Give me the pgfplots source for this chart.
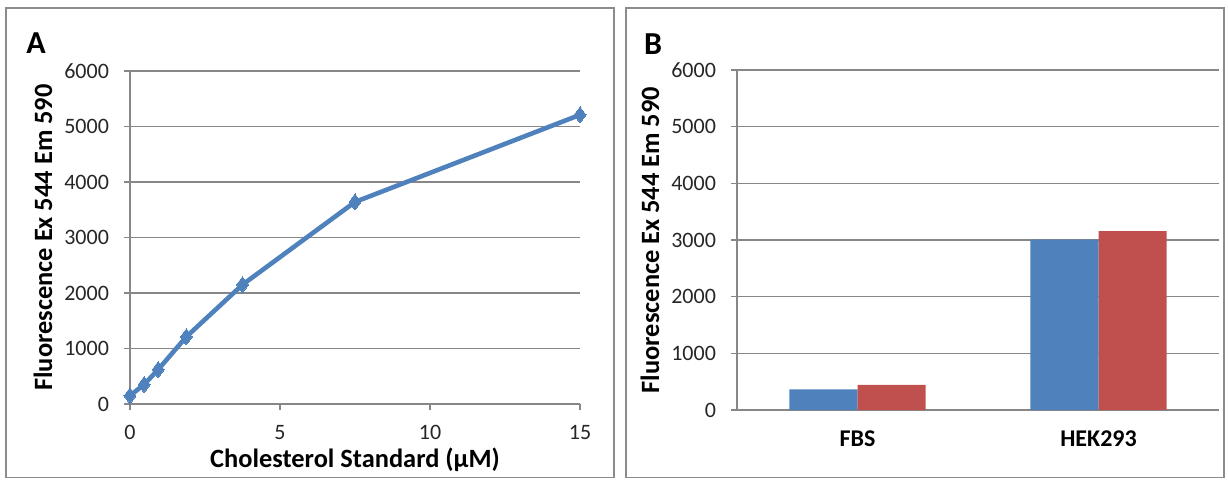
\documentclass[border=0pt]{standalone}
\usepackage{fontspec}
\setmainfont{Carlito}
\usepackage{pgfplots}
\pgfplotsset{compat=1.18}
\definecolor{xblue}{HTML}{4F81BD}
\definecolor{xred}{HTML}{C0504D}
\definecolor{xgrid}{HTML}{878787}
\definecolor{xframe}{HTML}{8C8C8C}
\begin{document}
\begin{tikzpicture}
\path (0,0) rectangle (614pt,239.5pt);
\draw[xframe,line width=0.6pt] (3pt,0.6pt) rectangle (307pt,235.5pt);
\draw[xframe,line width=0.6pt] (313pt,0.6pt) rectangle (612pt,235.5pt);
\node[font=\fontsize{16}{16}\selectfont\bfseries] at (18pt,218pt) {A};
\node[font=\fontsize{16}{16}\selectfont\bfseries] at (326.5pt,217.5pt) {B};
\pgfplotsset{
  xstyle/.style={
    scale only axis,
    axis lines*=left,
    axis line style={xgrid,line width=0.6pt},
    ymajorgrids,
    grid style={xgrid,line width=0.6pt},
    tick style={xgrid,line width=0.6pt},
    tick align=outside,
    major tick length=3pt,
    ymin=0,ymax=6000,
    ytick={0,1000,...,6000},
    scaled y ticks=false,
    /pgf/number format/assume math mode=true,
    /pgf/number format/1000 sep={},
    tick label style={font=\fontsize{11}{11}\selectfont,text=black!85},
    yticklabel style={xshift=-4pt},
    xticklabel style={yshift=-4pt},
    label style={font=\fontsize{13.2}{13.2}\selectfont\bfseries},
  }
}
\begin{axis}[xstyle,
  at={(65pt,37.5pt)},anchor=south west,
  width=225pt,height=166.5pt,
  xmin=0,xmax=15,xtick={0,5,10,15},
  xlabel={Cholesterol Standard (µM)},
  ylabel={Fluorescence Ex 544 Em 590},
  xlabel style={at={(axis description cs:0.5,0)},anchor=center,yshift=-28pt},
  ylabel style={at={(axis description cs:-0.1933,0.5)},anchor=center},
  clip=false,
]
\addplot[xblue,line width=2.3pt,mark=diamond*,mark size=4pt,mark options={fill=xblue,line width=0pt}]
coordinates {(0,150) (0.469,350) (0.9375,620) (1.875,1210) (3.75,2150) (7.5,3640) (15,5210)};
\end{axis}
\begin{axis}[xstyle,
  at={(368.5pt,34.5pt)},anchor=south west,
  width=241pt,height=170pt,
  xmin=-0.5,xmax=1.5,
  xtick={0,1},xticklabels={FBS,HEK293},
  x tick label style={font=\fontsize{12}{12}\selectfont\bfseries,text=black},
  extra x ticks={-0.5,0.5,1.5},extra x tick labels={},
  extra x tick style={grid=none,major tick length=5pt},
  major x tick style={draw=none},
  ylabel={Fluorescence Ex 544 Em 590},
  ylabel style={at={(axis description cs:-0.1805,0.5)},anchor=center},
  ybar=0pt,bar width=0.283,
]
\addplot[fill=xblue,draw=none] coordinates {(0,365) (1,3005)};
\addplot[fill=xred,draw=none] coordinates {(0,442) (1,3158)};
\end{axis}
\end{tikzpicture}
\end{document}
